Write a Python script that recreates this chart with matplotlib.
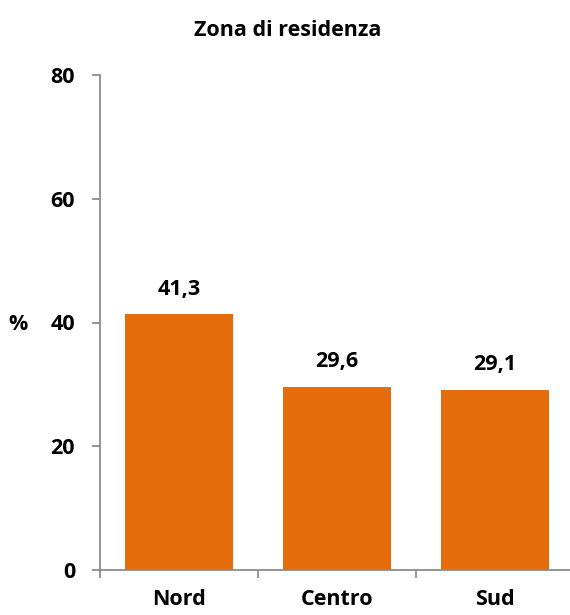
import matplotlib
matplotlib.use('Agg')
import matplotlib.pyplot as plt
import numpy as np

categories = ["Nord", "Centro", "Sud"]
values = [41.3, 29.6, 29.1]
value_labels = ["41,3", "29,6", "29,1"]
yticks = [0, 20, 40, 60, 80]

plt.rcParams['font.family'] = ['Open Sans', 'DejaVu Sans']
plt.rcParams['font.weight'] = 'bold'

orange = '#E46C0A'
gray = '#8c8c8c'
fs = 15.5

fig = plt.figure(figsize=(5.7, 6.15), dpi=100)
ax = fig.add_axes([100 / 570, 45 / 615, 474 / 570, 495 / 615])

x = np.arange(len(categories))
bars = ax.bar(x, values, width=0.685, color=orange, zorder=2)

for b, lab in zip(bars, value_labels):
    ax.annotate(lab, (b.get_x() + b.get_width() / 2, b.get_height()),
                xytext=(0, 18), textcoords='offset points',
                ha='center', va='center', fontsize=fs, fontweight='bold')

ax.set_xlim(-0.5, 2.5)
ax.set_ylim(0, 80)
ax.set_yticks(yticks)
ax.set_yticklabels([str(t) for t in yticks], fontsize=fs, fontweight='bold')
ax.set_xticks(x)
ax.set_xticklabels(categories, fontsize=fs, fontweight='bold')
ax.set_xticks([-0.5, 0.5, 1.5, 2.5], minor=True)

ax.tick_params(axis='x', which='major', length=0, pad=14)
ax.tick_params(axis='x', which='minor', length=6, width=1.3, color=gray, direction='out')
ax.tick_params(axis='y', which='major', length=6, width=1.3, color=gray, pad=12)

for s in ['top', 'right']:
    ax.spines[s].set_visible(False)
for s in ['left', 'bottom']:
    ax.spines[s].set_color(gray)
    ax.spines[s].set_linewidth(1.3)

fig.text(18 / 570, 1 - 325 / 615, "%", fontsize=fs, fontweight='bold',
         ha='center', va='center')
fig.text(288 / 570, 1 - 30 / 615, "Zona di residenza", fontsize=fs,
         fontweight='bold', ha='center', va='center')

fig.savefig('out.png', dpi=100)
